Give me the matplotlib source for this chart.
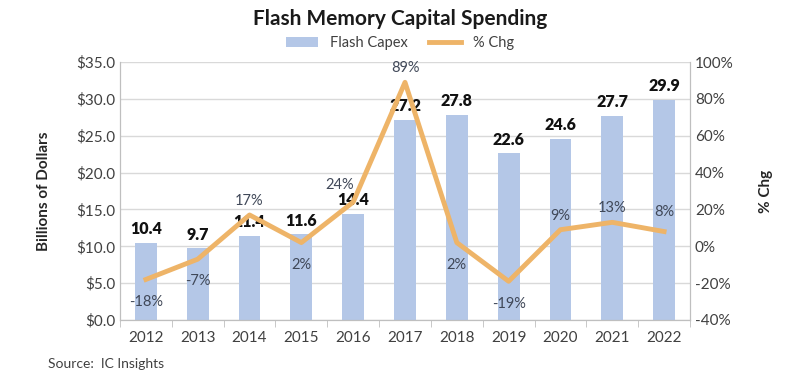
import matplotlib.pyplot as plt
from matplotlib.ticker import FuncFormatter

plt.rcParams['font.family'] = ['Lato', 'DejaVu Sans']

years = ['2012', '2013', '2014', '2015', '2016', '2017', '2018', '2019', '2020', '2021', '2022']
capex = [10.4, 9.7, 11.4, 11.6, 14.4, 27.2, 27.8, 22.6, 24.6, 27.7, 29.9]
pct_chg = [-18, -7, 17, 2, 24, 89, 2, -19, 9, 13, 8]

bar_color = '#b4c7e7'
line_color = '#eeb468'
text_color = '#404040'

fig = plt.figure(figsize=(8, 3.76), dpi=100)
ax = fig.add_axes([0.15, 0.149, 0.7125, 0.686])
ax2 = ax.twinx()

x = list(range(len(years)))
bars = ax.bar(x, capex, width=0.42, color=bar_color, zorder=2, label='Flash Capex')
line, = ax2.plot(x, pct_chg, color=line_color, lw=3.5, zorder=3, label='% Chg')

ax.set_ylim(0, 35)
ax.set_yticks(range(0, 36, 5))
ax.yaxis.set_major_formatter(FuncFormatter(lambda v, p: f'${v:.1f}'))
ax2.set_ylim(-40, 100)
ax2.set_yticks(range(-40, 101, 20))
ax2.yaxis.set_major_formatter(FuncFormatter(lambda v, p: f'{v:.0f}%'))
ax.set_xlim(-0.5, len(years) - 0.5)
ax.set_xticks(x)
ax.set_xticklabels(years)
ax.set_xticks([i - 0.5 for i in range(len(years) + 1)], minor=True)

ax.grid(axis='y', color='#d9d9d9', lw=1, zorder=0)
for a in (ax, ax2):
    for s in a.spines.values():
        s.set_color('#bfbfbf')
    a.spines['top'].set_visible(False)
    a.tick_params(colors=text_color, labelsize=11, length=0)
ax.tick_params(axis='x', which='major', length=0, pad=8)
ax.tick_params(axis='x', which='minor', length=5, color='#bfbfbf')

ax.set_ylabel('Billions of Dollars', fontsize=11, fontweight='bold', color='#262626', labelpad=18)
ax2.set_ylabel('% Chg', fontsize=11, fontweight='bold', color='#262626', rotation=90, labelpad=18)

# bar value labels
for xi, v in zip(x, capex):
    ax.text(xi, v + 0.8, f'{v:.1f}', ha='center', va='bottom', fontsize=11.5,
            fontweight='heavy', color='#111111', zorder=5)

# percent labels (offsets in points)
offs = [(0, -16), (0, -16), (0, 10), (0, -16), (-10, 12), (0, 10), (0, -16), (0, -16), (0, 10), (0, 10), (0, 14)]
for xi, v, (dx, dy) in zip(x, pct_chg, offs):
    ax2.annotate(f'{v}%', (xi, v), xytext=(dx, dy), textcoords='offset points',
                 ha='center', va='center', fontsize=10.5, color='#404858', zorder=5)

fig.text(0.5, 0.95, 'Flash Memory Capital Spending', ha='center', va='center',
         fontsize=15, fontweight='bold', color='#1a1a1a')
fig.legend(handles=[bars, line], loc='center', bbox_to_anchor=(0.5, 0.885), ncol=2,
           frameon=False, fontsize=10.5, handlelength=2.2, columnspacing=1.5,
           labelcolor=text_color)
fig.text(0.06, 0.022, 'Source:  IC Insights', fontsize=10, color=text_color)

fig.savefig('out.png', dpi=100)
